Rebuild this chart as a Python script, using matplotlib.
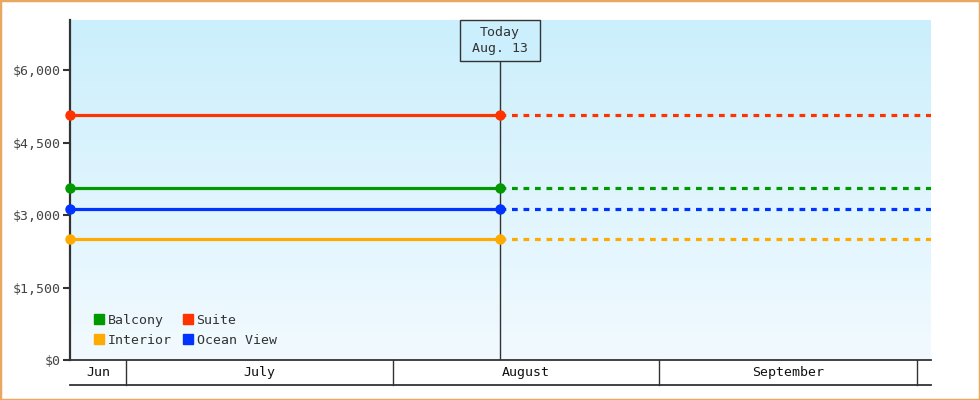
import numpy as np
import matplotlib
matplotlib.use("Agg")
import matplotlib.pyplot as plt
import matplotlib.dates as mdates
from matplotlib.patches import Rectangle
from datetime import datetime

# data
series = ["Balcony", "Interior", "Suite", "Ocean View"]
colors = ["#009900", "#ffaa00", "#ff3300", "#0033ff"]
prices = [3560, 2505, 5070, 3125]
start = datetime(2024, 6, 24, 12)
today = datetime(2024, 8, 13, 12)
end = datetime(2024, 10, 2, 14)
months = ["Jun", "July", "August", "September", ""]
month_starts = [datetime(2024, 6, 1), datetime(2024, 7, 1), datetime(2024, 8, 1),
                datetime(2024, 9, 1), datetime(2024, 10, 1), datetime(2024, 11, 1)]
yticks = [0, 1500, 3000, 4500, 6000]

plt.rcParams['font.family'] = ['DejaVu Sans Mono']

fig = plt.figure(figsize=(9.8, 4.0), dpi=100)
ax = fig.add_axes([70 / 980, 40 / 400, 861 / 980, 340 / 400])

x0, x1 = mdates.date2num(start), mdates.date2num(end)
xt = mdates.date2num(today)
ymax = 7035
px_x = (x1 - x0) / 861
px_y = ymax / 340

# gradient background
grad = np.linspace(0, 1, 256).reshape(-1, 1)
cmap = matplotlib.colors.LinearSegmentedColormap.from_list("bg", ["#f2faff", "#cbeffc"])
ax.imshow(grad, cmap=cmap, extent=[x0, x1, 0, ymax], aspect="auto", origin="lower", zorder=0)

for name, c, p in zip(series, colors, prices):
    ax.plot([x0, xt], [p, p], color=c, lw=2.3, solid_capstyle="butt", zorder=3)
    ax.plot([xt, x1], [p, p], color=c, lw=2.3, ls=(0, (1.8, 1.8)), zorder=3)
    ax.plot([x0, xt], [p, p], ls="none", marker="o", ms=6.5, color=c, zorder=4, clip_on=False)

# today marker
ax.plot([xt, xt], [0, ymax - 41 * px_y], color="#333333", lw=1, zorder=2)
ax.add_patch(Rectangle((xt - 40 * px_x, ymax - 41 * px_y), 80 * px_x, 41 * px_y,
                       fc="#cbeffc", ec="#333333", lw=1, zorder=5, clip_on=False))
ax.text(xt, ymax - 20.5 * px_y, "Today\nAug. 13", ha="center", va="center", fontsize=9.5,
        color="#333333", linespacing=1.35, zorder=6)

ax.set_xlim(x0, x1)
ax.set_ylim(0, ymax)
ax.set_xticks([])
ax.set_yticks(yticks)
ax.set_yticklabels(["${:,}".format(v) for v in yticks], fontsize=9.5, color="#444444")
ax.tick_params(axis="y", length=5, width=1.5, color="#333333", pad=2)
for s in ["top", "right", "bottom"]:
    ax.spines[s].set_visible(False)
ax.spines["left"].set_linewidth(1.6)
ax.spines["left"].set_color("#333333")

# month band under the plot
band_y = -25 * px_y
ax.plot([x0, x1], [0, 0], color="#333333", lw=1.3, clip_on=False, zorder=5)
ax.plot([x0, x1], [band_y, band_y], color="#333333", lw=1.3, clip_on=False)
for i, m in enumerate(months):
    a = max(mdates.date2num(month_starts[i]), x0)
    b = min(mdates.date2num(month_starts[i + 1]), x1)
    if a >= b:
        continue
    if mdates.date2num(month_starts[i]) > x0:
        ax.plot([a, a], [0, band_y], color="#333333", lw=1, clip_on=False)
    ax.text((a + b) / 2, band_y / 2, m, ha="center", va="center", fontsize=9.5, color="#111111")

handles = [plt.Line2D([], [], ls="none", marker="s", ms=7.5, color=c) for c in colors]
leg = ax.legend(handles, series, ncol=2, loc="lower left", bbox_to_anchor=(0.006, 0.0),
                frameon=False, fontsize=9.5, handletextpad=-0.15, columnspacing=0.45,
                labelspacing=0.55, handlelength=1.6, borderaxespad=0.6)
for t in leg.get_texts():
    t.set_color("#333333")

fig.patches.append(Rectangle((0, 0), 1, 1, transform=fig.transFigure,
                             fill=False, ec="#e8a860", lw=2.5))
fig.savefig("out.png", dpi=100)
